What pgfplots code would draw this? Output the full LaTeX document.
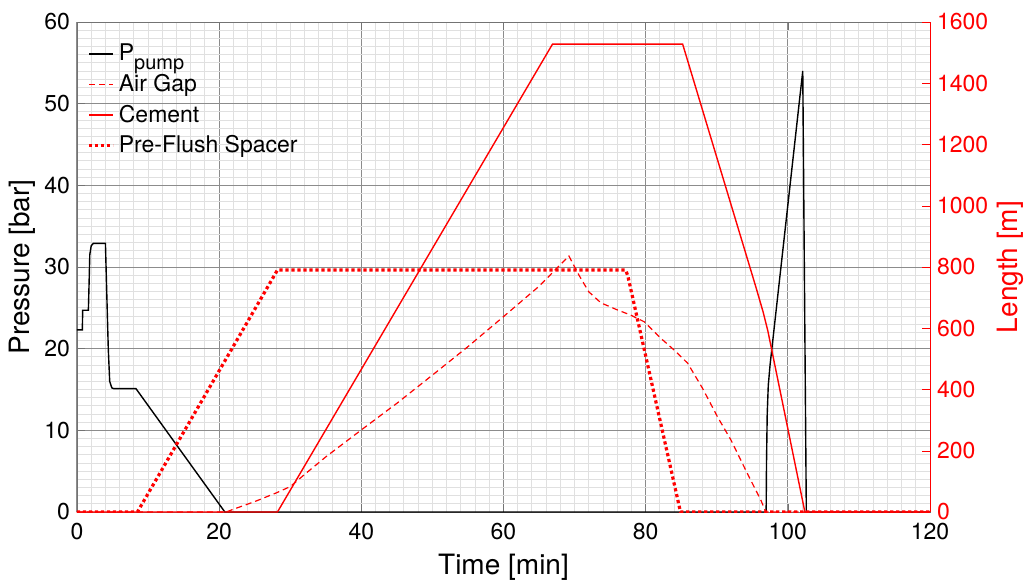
\documentclass[border=0pt]{standalone}
\usepackage{fontspec}
\setmainfont{TeX Gyre Heros}
\usepackage{pgfplots}
\pgfplotsset{compat=1.18}
\definecolor{axgray}{gray}{0.45}
\definecolor{majgrid}{gray}{0.55}
\definecolor{mingrid}{gray}{0.88}
\begin{document}
\begin{tikzpicture}
\pgfplotsset{
  common/.style={
    scale only axis, width=426.5pt, height=245pt,
    at={(0,0)}, anchor=south west,
    xmin=0, xmax=120,
    tick align=inside,
    /pgf/number format/assume math mode=true,
    /pgf/number format/1000 sep={},
    tick label style={font=\fontsize{11.5}{13}\selectfont},
    xticklabel style={yshift=-2pt},
    label style={font=\fontsize{14}{16}\selectfont},
    major tick length=4pt, minor tick length=0pt,
  }
}
\begin{axis}[common,
  ymin=0, ymax=60,
  xtick={0,20,...,120}, ytick={0,10,...,60},
  minor x tick num=9, minor y tick num=9,
  grid=both,
  major grid style={majgrid, line width=0.5pt},
  minor grid style={mingrid, line width=0.5pt},
  axis line style={axgray},
  tick style={axgray},
  ytick pos=left,
  xlabel={Time [min]}, ylabel={Pressure [bar]},
  xlabel style={at={(axis description cs:0.5,-0.112)}, anchor=center},
  ylabel style={at={(axis description cs:-0.0645,0.5)}, anchor=center},
]
\addplot[black, line width=0.7pt] coordinates {
(0,22.3) (0.75,22.3) (0.8,24.7) (1.6,24.7) (1.7,28) (1.8,31.5) (2.0,32.6) (2.3,32.9)
(4.0,32.9) (4.15,28) (4.4,20) (4.6,16) (4.9,15.2) (5.2,15.1) (8.3,15.1) (20.8,0)
(96.95,0) (97.0,6) (97.1,12) (97.25,15.5) (97.5,18) (102.1,54) (102.6,0) (120,0)};
\end{axis}
\begin{axis}[common,
  ymin=0, ymax=1600, ytick={0,200,...,1600},
  axis y line*=right, axis x line=none,
  y axis line style={red},
  ytick style={red},
  yticklabel style={red},
  ylabel={Length [m]},
  ylabel style={red, at={(axis description cs:1.0938,0.5)}, anchor=center},
  legend cell align=left,
  legend style={draw=none, fill=none, at={(axis description cs:0.005,0.972)}, anchor=north west,
    font=\fontsize{11.5}{13}\selectfont, row sep=1.2pt},
  legend image code/.code={\draw[#1] (0pt,0pt) -- (12pt,0pt);},
]
\addlegendimage{black, line width=0.7pt}
\addlegendentry{P\raisebox{-0.75ex}{\fontsize{10}{11}\selectfont pump}}
\addlegendimage{red, line width=0.75pt, dash pattern=on 3pt off 2pt}
\addlegendentry{Air Gap}
\addlegendimage{red, line width=0.8pt}
\addlegendentry{Cement}
\addlegendimage{red, line width=1.6pt, dash pattern=on 1.6pt off 1.4pt}
\addlegendentry{Pre-Flush Spacer}
\addplot[red, line width=0.6pt, dash pattern=on 3pt off 2pt, forget plot] coordinates {
(0,0) (21,0) (22,9) (25,34) (28,62) (30,83) (32.5,132) (35,180) (40,268) (45,355)
(50,447) (55,540) (60,638) (65,737) (69.2,836) (70.6,774) (72,719) (73.7,683) (76,660)
(77.9,643) (79.8,621) (82,570) (84,529) (85.9,486) (88,404) (90.1,311) (92,235)
(94.3,126) (96.2,39) (96.9,0) (120,0)};
\addplot[red, line width=0.7pt, forget plot] coordinates {
(0,0) (28.2,0) (66.9,1528) (85.2,1528) (95.5,735) (96.5,655) (97.2,590) (102.4,0) (120,0)};
\addplot[red, line width=1.6pt, dash pattern=on 1.6pt off 1.4pt, forget plot] coordinates {
(0,0) (8.5,0) (28.2,790) (77.2,790) (77.5,770) (84.9,0) (120,0)};
\end{axis}
\pgfresetboundingbox
\useasboundingbox (-38.5pt,-34pt) rectangle (476.5pt,256pt);
\end{tikzpicture}
\end{document}
